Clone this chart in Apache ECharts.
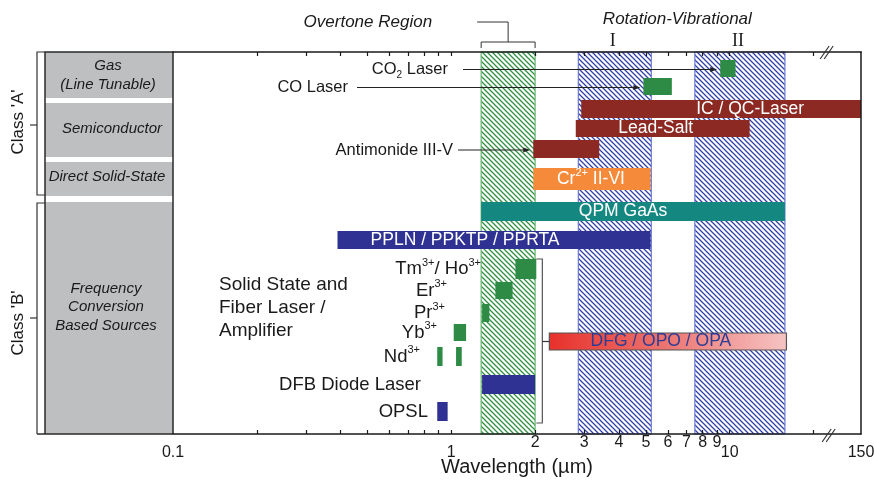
<!DOCTYPE html>
<html>
<head>
<meta charset="utf-8">
<script src="https://cdn.jsdelivr.net/npm/echarts@6/dist/echarts.min.js"></script>
<style>
  html, body { margin: 0; padding: 0; background: #fff; }
  #chart { width: 874px; height: 482px; }
</style>
</head>
<body>
<div id="chart"></div>
<script>
// ---- data: laser source coverage in micrometres ----
const sourceNames = [
  'CO{sub|2} Laser', 'CO Laser', 'IC / QC-Laser', 'Lead-Salt', 'Antimonide III-V',
  'Cr{sup|2+} II-VI', 'QPM GaAs', 'PPLN / PPKTP / PPRTA',
  'Tm{sup|3+}/ Ho{sup|3+}', 'Er{sup|3+}', 'Pr{sup|3+}', 'Yb{sup|3+}', 'Nd{sup|3+}', 'Nd{sup|3+}',
  'DFB Diode Laser', 'OPSL', 'DFG / OPO / OPA'
];
const rangeStart = [9.25, 4.9, 2.93, 2.8, 1.97, 1.97, 1.28, 0.39, 1.7, 1.44, 1.29, 1.02, 0.89, 1.04, 1.29, 0.89, 2.25];
const rangeEnd   = [10.5, 6.2, 150, 11.8, 3.4, 5.2, 15.8, 5.2, 2.02, 1.66, 1.37, 1.13, 0.93, 1.09, 2.0, 0.97, 16];

// spectral regions (hatched bands)
const regionNames = ['Overtone Region', 'I', 'II'];
const regionStart = [1.28, 2.86, 7.5];
const regionEnd   = [2.0, 5.23, 15.8];

// axis ticks and labels (micrometres)
const tickValues = [0.2, 0.3, 0.4, 0.5, 0.6, 0.7, 0.8, 0.9, 1, 2, 3, 4, 5, 6, 7, 8, 9, 10, 20];
const majorTickLabels = ['0.1', '1', '10', '150'];
const minorTickLabels = ['2', '3', '4', '5', '6', '7', '8', '9'];

// ---- axis transform: log scale up to the break, compressed beyond ----
const BREAK_AT = 20, AXIS_END = 150, U_END = 1.472, BREAK_MARK_U = 1.354;
function toU(um) {
  const l = Math.log10(um);
  if (um <= BREAK_AT) return l;
  const lb = Math.log10(BREAK_AT);
  return lb + (l - lb) * (U_END - lb) / (Math.log10(AXIS_END) - lb);
}

// ---- layout: lane extents (0 = top of the plot, 382 = bottom) ----
const LANES = 382;
const laneTop    = [8, 26, 48, 68, 88, 116, 150, 179, 207, 230, 252, 272, 295, 295, 323, 350, 281];
const laneBottom = [25, 43, 66, 85, 106, 138, 169, 197, 227, 247, 270, 289, 314, 314, 342, 369, 298];

// ---- styles ----
const FONT = '"Liberation Sans", Arial, Helvetica, sans-serif';
const INK = '#1a1a1a';
const C = {
  red: '#8b2922', green: '#2e8b45', orange: '#f68a3b', teal: '#148781', blue: '#2f3293'
};
const dfgFill = new echarts.graphic.LinearGradient(0, 0, 1, 0, [
  { offset: 0, color: '#e8302a' }, { offset: 0.5, color: '#ec7672' }, { offset: 1, color: '#f6c4c4' }
]);
// mode: how the name is shown; dx: centre shift for inside text; rx/tx/lx: pixel anchors for outside text
const sourceLook = [
  { fill: C.green, mode: 'callout', tx: 448, lx: 463 },
  { fill: C.green, mode: 'callout', tx: 348, lx: 357 },
  { fill: C.red, mode: 'inside', dx: 29, color: '#fff' },
  { fill: C.red, mode: 'inside', dx: -7, color: '#fff' },
  { fill: C.red, mode: 'callout', tx: 453, lx: 458 },
  { fill: C.orange, mode: 'inside', dx: -1, color: '#fff' },
  { fill: C.teal, mode: 'inside', dx: -10, color: '#fff' },
  { fill: C.blue, mode: 'inside', dx: -29, color: '#fff' },
  { fill: C.green, mode: 'left', rx: 481 },
  { fill: C.green, mode: 'left', rx: 447 },
  { fill: C.green, mode: 'left', rx: 445 },
  { fill: C.green, mode: 'left', rx: 437 },
  { fill: C.green, mode: 'left', rx: 420 },
  { fill: C.green, mode: 'none' },
  { fill: C.blue, mode: 'left', rx: 421 },
  { fill: C.blue, mode: 'left', rx: 428 },
  { fill: dfgFill, stroke: '#555', mode: 'inside', dx: -7, color: '#2e3d93' }
];

function hatchTile(color) {
  const s = 5, c = document.createElement('canvas');
  c.width = s; c.height = s;
  const g = c.getContext('2d');
  g.strokeStyle = color; g.lineWidth = 1.25;
  g.beginPath();
  g.moveTo(0, 0); g.lineTo(s, s);
  g.moveTo(-1, s - 1); g.lineTo(1, s + 1);
  g.moveTo(s - 1, -1); g.lineTo(s + 1, 1);
  g.stroke();
  return c;
}
const greenHatch = { image: hatchTile('#2f8f43'), repeat: 'repeat' };
const blueHatch = { image: hatchTile('#3140a8'), repeat: 'repeat' };
const regionLook = [
  { fill: greenHatch, edge: '#62b56c' },
  { fill: blueHatch, edge: '#6a79d2' },
  { fill: blueHatch, edge: '#6a79d2' }
];

function richFor(size) {
  return {
    sup: { fontSize: Math.round(size * 0.62), fontFamily: FONT, lineHeight: 12, verticalAlign: 'top' },
    sub: { fontSize: Math.round(size * 0.62), fontFamily: FONT, lineHeight: 12, verticalAlign: 'bottom' }
  };
}
function textEl(str, x, y, align, color, size, extra) {
  return {
    type: 'text', x: x, y: y, z2: 20,
    style: Object.assign({
      text: str, fill: color, font: size + 'px ' + FONT,
      align: align, verticalAlign: 'middle', lineHeight: size + 5, rich: richFor(size)
    }, extra || {})
  };
}

function renderRegion(params, api) {
  const i = params.dataIndex;
  const a = api.coord([api.value(0), 0]);
  const b = api.coord([api.value(1), LANES]);
  const look = regionLook[i];
  const children = [{
    type: 'rect', shape: { x: a[0], y: a[1], width: b[0] - a[0], height: b[1] - a[1] },
    style: { fill: look.fill, stroke: look.edge, lineWidth: 1.2 }
  }];
  if (i === 0) {
    const mid = (a[0] + b[0]) / 2, by = a[1] - 10;
    children.push({ type: 'polyline', shape: { points: [[a[0], by + 6], [a[0], by], [b[0], by], [b[0], by + 6]] },
      style: { stroke: '#333', lineWidth: 1, fill: null } });
    children.push({ type: 'polyline', shape: { points: [[mid, by], [mid, a[1] - 30], [mid - 31, a[1] - 30]] },
      style: { stroke: '#333', lineWidth: 1, fill: null } });
    children.push(textEl(regionNames[i], mid - 76, a[1] - 30, 'right', INK, 17, { font: 'italic 17px ' + FONT }));
  } else {
    children.push(textEl(regionNames[i], (a[0] + b[0]) / 2 - 2, a[1] - 11, 'center', INK, 18,
      { font: '18px "Liberation Serif", "Times New Roman", serif' }));
    if (i === 1) {
      const c2a = api.coord([toU(regionStart[2]), 0])[0];
      const c2b = api.coord([toU(regionEnd[2]), 0])[0];
      const cx = ((a[0] + b[0]) / 2 + (c2a + c2b) / 2) / 2;
      children.push(textEl('Rotation-Vibrational', cx, a[1] - 33, 'center', INK, 17, { font: 'italic 17px ' + FONT }));
    }
  }
  return { type: 'group', children: children };
}

function renderSource(params, api) {
  const i = params.dataIndex;
  const look = sourceLook[i];
  const a = api.coord([api.value(0), laneTop[i]]);
  const b = api.coord([api.value(1), laneBottom[i]]);
  const x = a[0], y = a[1], w = b[0] - a[0], h = b[1] - a[1], cy = y + h / 2;
  const children = [{
    type: 'rect', shape: { x: x, y: y, width: w, height: h },
    style: { fill: look.fill, stroke: look.stroke || null, lineWidth: look.stroke ? 1.2 : 0 }
  }];
  if (look.mode === 'inside') {
    children.push(textEl(sourceNames[i], x + w / 2 + look.dx, cy, 'center', look.color, 17.5));
  } else if (look.mode === 'left') {
    children.push(textEl(sourceNames[i], look.rx, cy, 'right', INK, 18.5));
  } else if (look.mode === 'callout') {
    const ly = cy + 1, tip = x - 3;
    children.push(textEl(sourceNames[i], look.tx, ly, 'right', INK, 16.5));
    children.push({ type: 'line', shape: { x1: look.lx, y1: ly, x2: tip - 4, y2: ly }, style: { stroke: '#222', lineWidth: 1 } });
    children.push({ type: 'polygon', shape: { points: [[tip, ly], [tip - 7, ly - 2.5], [tip - 7, ly + 2.5]] }, style: { fill: '#222' } });
  }
  // bracket grouping the solid-state rows and linking them to DFG / OPO / OPA
  if (i === sourceNames.length - 1) {
    const topY = api.coord([0, laneTop[8]])[1];
    const botY = api.coord([0, laneBottom[15]])[1] + 2;
    const inX = api.coord([toU(rangeEnd[8]), 0])[0];
    const bx = x - 7;
    children.push({ type: 'polyline', shape: { points: [[inX, topY], [bx, topY], [bx, botY], [inX, botY]] },
      style: { stroke: '#555', lineWidth: 1.2, fill: null } });
    children.push({ type: 'line', shape: { x1: bx, y1: cy, x2: x, y2: cy }, style: { stroke: '#333', lineWidth: 1.2 } });
  }
  return { type: 'group', children: children };
}

function labelFor(list) {
  return function (v) {
    let best = '', d = 1e9;
    list.forEach(function (s) {
      const dd = Math.abs(toU(parseFloat(s)) - v);
      if (dd < d) { d = dd; best = s; }
    });
    return best;
  };
}

const tickU = tickValues.map(toU);
const axisBase = {
  type: 'value', min: -1, max: U_END, splitLine: { show: false }, z: 10
};
const lineStyle = { color: INK, width: 1.5 };

const chart = echarts.init(document.getElementById('chart'), null, { renderer: 'canvas' });
chart.setOption({
  animation: false,
  backgroundColor: '#fff',
  grid: { left: 173, right: 13, top: 52, bottom: 48, containLabel: false, outerBoundsMode: 'none' },
  xAxis: [
    Object.assign({}, axisBase, {
      position: 'bottom',
      axisLine: { show: true, onZero: false, lineStyle: lineStyle },
      axisTick: { show: true, inside: true, length: 4, customValues: tickU, lineStyle: { color: INK, width: 1.2 } },
      axisLabel: { customValues: majorTickLabels.map(function (s) { return toU(parseFloat(s)); }),
        formatter: labelFor(majorTickLabels), margin: 11, fontSize: 16, color: INK, fontFamily: FONT },
      name: 'Wavelength (\u00b5m)', nameLocation: 'middle', nameGap: 23, nameMoveOverlap: false,
      nameTextStyle: { fontSize: 20, color: INK, fontFamily: FONT }
    }),
    Object.assign({}, axisBase, {
      position: 'bottom',
      axisLine: { show: false, onZero: false }, axisTick: { show: false },
      axisLabel: { customValues: minorTickLabels.map(function (s) { return toU(parseFloat(s)); }),
        formatter: labelFor(minorTickLabels), margin: 1, fontSize: 16, color: INK, fontFamily: FONT }
    }),
    Object.assign({}, axisBase, {
      position: 'top',
      axisLine: { show: true, onZero: false, lineStyle: lineStyle },
      axisTick: { show: true, inside: true, length: 4, customValues: tickU, lineStyle: { color: INK, width: 1.2 } },
      axisLabel: { show: false }
    })
  ],
  yAxis: [{
    type: 'value', inverse: true, min: 0, max: LANES, position: 'right', z: 10,
    axisLine: { show: true, onZero: false, lineStyle: lineStyle },
    axisTick: { show: false }, axisLabel: { show: false }, splitLine: { show: false }
  }],
  series: [
    {
      type: 'custom', name: 'regions', xAxisIndex: 0, yAxisIndex: 0, z: 1,
      renderItem: renderRegion,
      data: regionNames.map(function (n, i) { return [toU(regionStart[i]), toU(regionEnd[i])]; })
    },
    {
      type: 'custom', name: 'sources', xAxisIndex: 0, yAxisIndex: 0, z: 3,
      renderItem: renderSource,
      data: sourceNames.map(function (n, i) { return [toU(rangeStart[i]), toU(rangeEnd[i])]; })
    }
  ]
});

// ---- static decoration: category column, class brackets, captions, axis break ----
const bx = chart.convertToPixel({ xAxisIndex: 0 }, BREAK_MARK_U);
const frame = { stroke: '#2a2a2a', lineWidth: 1.5, fill: null };
const thin = { stroke: '#333', lineWidth: 1.2, fill: null };
function gText(str, x, y, font, extra, rotation) {
  return { type: 'text', x: x, y: y, z: 5, rotation: rotation || 0,
    style: Object.assign({ text: str, font: font, fill: INK, align: 'center', verticalAlign: 'middle' }, extra || {}) };
}
const it15 = 'italic 15px ' + FONT;
chart.setOption({
  graphic: [
    { type: 'rect', z: 1, shape: { x: 45, y: 52, width: 128, height: 382 }, style: { fill: '#bebfc1', stroke: null } },
    { type: 'rect', z: 2, shape: { x: 45, y: 98, width: 128, height: 5 }, style: { fill: '#fff' } },
    { type: 'rect', z: 2, shape: { x: 45, y: 157, width: 128, height: 5 }, style: { fill: '#fff' } },
    { type: 'rect', z: 2, shape: { x: 45, y: 196, width: 128, height: 6 }, style: { fill: '#fff' } },
    { type: 'polyline', z: 3, shape: { points: [[45, 434], [45, 52], [173, 52], [173, 434]] }, style: frame },
    { type: 'line', z: 3, shape: { x1: 37, y1: 434, x2: 173, y2: 434 }, style: frame },
    // class brackets
    { type: 'polyline', z: 3, shape: { points: [[45, 52], [37, 52], [37, 195], [45, 195]] }, style: thin },
    { type: 'line', z: 3, shape: { x1: 30, y1: 125, x2: 37, y2: 125 }, style: thin },
    { type: 'polyline', z: 3, shape: { points: [[45, 203], [37, 203], [37, 434]] }, style: thin },
    { type: 'line', z: 3, shape: { x1: 30, y1: 318, x2: 37, y2: 318 }, style: thin },
    gText("Class 'A'", 18, 122, '17px ' + FONT, null, Math.PI / 2),
    gText("Class 'B'", 18, 323, '17px ' + FONT, null, Math.PI / 2),
    // category captions
    gText('Gas', 108, 66, it15),
    gText('(Line Tunable)', 108, 85, it15),
    gText('Semiconductor', 112, 129, it15),
    gText('Direct Solid-State', 107, 177, it15),
    gText('Frequency\nConversion\nBased Sources', 106, 307, it15, { lineHeight: 18.5 }),
    gText('Solid State and\nFiber Laser /\nAmplifier', 219, 308, '19px ' + FONT, { align: 'left', lineHeight: 23 }),
    // axis break marks
    { type: 'line', z: 12, shape: { x1: bx - 8, y1: 59, x2: bx + 1, y2: 46 }, style: thin },
    { type: 'line', z: 12, shape: { x1: bx - 4, y1: 59, x2: bx + 5, y2: 46 }, style: thin },
    { type: 'line', z: 12, shape: { x1: bx - 6, y1: 442, x2: bx + 3, y2: 429 }, style: thin },
    { type: 'line', z: 12, shape: { x1: bx - 2, y1: 442, x2: bx + 7, y2: 429 }, style: thin }
  ]
});
</script>
</body>
</html>
